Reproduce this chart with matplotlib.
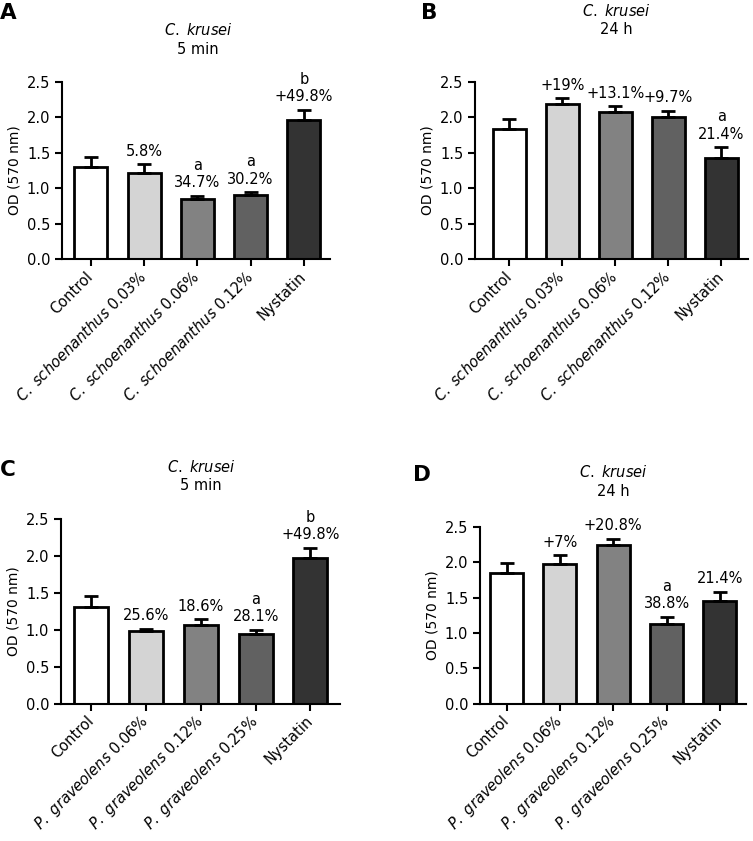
import numpy as np
import matplotlib
matplotlib.use("Agg")
from matplotlib import pyplot as plt

plt.rcParams['font.family'] = ['DejaVu Sans']
plt.rcParams['mathtext.fontset'] = 'dejavusans'

# Data
labels_cs = ["Control",
             r"$\mathit{C.}$ $\mathit{schoenanthus}$ 0.03%",
             r"$\mathit{C.}$ $\mathit{schoenanthus}$ 0.06%",
             r"$\mathit{C.}$ $\mathit{schoenanthus}$ 0.12%",
             "Nystatin"]
labels_pg = ["Control",
             r"$\mathit{P.}$ $\mathit{graveolens}$ 0.06%",
             r"$\mathit{P.}$ $\mathit{graveolens}$ 0.12%",
             r"$\mathit{P.}$ $\mathit{graveolens}$ 0.25%",
             "Nystatin"]

mean_a = [1.30, 1.22, 0.85, 0.90, 1.96]
sem_a = [0.14, 0.12, 0.04, 0.04, 0.15]
note_a = ["", "5.8%", "a\n34.7%", "a\n30.2%", "b\n+49.8%"]

mean_b = [1.84, 2.19, 2.08, 2.01, 1.43]
sem_b = [0.14, 0.08, 0.08, 0.08, 0.15]
note_b = ["", "+19%", "+13.1%", "+9.7%", "a\n21.4%"]

mean_c = [1.31, 0.98, 1.06, 0.94, 1.97]
sem_c = [0.14, 0.03, 0.08, 0.06, 0.14]
note_c = ["", "25.6%", "18.6%", "a\n28.1%", "b\n+49.8%"]

mean_d = [1.85, 1.97, 2.24, 1.13, 1.45]
sem_d = [0.14, 0.13, 0.09, 0.10, 0.13]
note_d = ["", "+7%", "+20.8%", "a\n38.8%", "21.4%"]

bar_colors = ["#ffffff", "#d4d4d4", "#828282", "#616161", "#333333"]

W, H = 753, 841
fig = plt.figure(figsize=(W / 100, H / 100), dpi=100)


def axes_px(l, r, b, t):
    return fig.add_axes([l / W, 1 - b / H, (r - l) / W, (b - t) / H])


def text_px(x, y, s, **kw):
    fig.text(x / W, 1 - y / H, s, **kw)


def panel(ax, means, sems, notes, labels, xlim):
    x = np.arange(len(means))
    ax.bar(x, means, width=0.62, color=bar_colors, edgecolor='black',
           linewidth=2.0, zorder=2)
    ax.errorbar(x, means, yerr=[np.zeros(len(sems)), sems], fmt='none',
                ecolor='black', elinewidth=2.0, capsize=4.8, capthick=2.0,
                zorder=3)
    for xi, m, s, n in zip(x, means, sems, notes):
        if n:
            ax.annotate(n, (xi, m + s), xytext=(0, 4), textcoords='offset points',
                        ha='center', va='bottom', fontsize=10.5,
                        annotation_clip=False)
    ax.set_xlim(*xlim)
    ax.set_ylim(0, 2.5)
    ax.set_yticks([0, 0.5, 1.0, 1.5, 2.0, 2.5])
    ax.set_yticklabels(["0.0", "0.5", "1.0", "1.5", "2.0", "2.5"])
    ax.set_xticks(x)
    ax.set_xticklabels(labels, rotation=45, ha='right', va='center',
                       rotation_mode='anchor')
    ax.tick_params(labelsize=10.5, width=1.5, length=5, direction='out')
    ax.tick_params(axis='x', pad=6)
    ax.set_ylabel("OD (570 nm)", fontsize=10)
    for sp in ['top', 'right']:
        ax.spines[sp].set_visible(False)
    for sp in ['left', 'bottom']:
        ax.spines[sp].set_linewidth(1.5)


ax_a = axes_px(62, 330, 259, 82)
panel(ax_a, mean_a, sem_a, note_a, labels_cs, (-0.54, 4.49))
ax_b = axes_px(475, 748, 259, 82)
panel(ax_b, mean_b, sem_b, note_b, labels_cs, (-0.65, 4.5))
ax_c = axes_px(61, 340, 703.5, 519)
panel(ax_c, mean_c, sem_c, note_c, labels_pg, (-0.55, 4.54))
ax_d = axes_px(480, 746, 703.5, 527)
panel(ax_d, mean_d, sem_d, note_d, labels_pg, (-0.5, 4.49))

# titles
for x, y, sub in [(198, 30, "5 min"), (616, 11, "24 h"),
                  (201, 467, "5 min"), (613, 472, "24 h")]:
    text_px(x, y, r"$\mathit{C.}$ $\mathit{krusei}$", ha='center', va='center',
            fontsize=10.5)
    text_px(x, y + 19, sub, ha='center', va='center', fontsize=10.5)

# panel letters
for x, y, s in [(0, 13, "A"), (421, 13, "B"), (0, 470, "C"), (413, 475, "D")]:
    text_px(x, y, s, ha='left', va='center', fontsize=15.5, fontweight='bold')

plt.savefig("out.png", dpi=100)
